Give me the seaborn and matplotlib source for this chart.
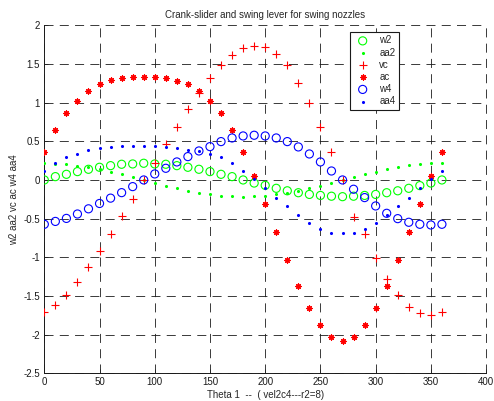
import numpy as np
import pandas as pd
import matplotlib
matplotlib.use("Agg")
import matplotlib.pyplot as plt
import seaborn as sns

theta = list(range(0, 361, 10))

w2 = [0.0, 0.043, 0.073, 0.108, 0.138, 0.164, 0.185, 0.203, 0.207, 0.216,
      0.207, 0.203, 0.185, 0.164, 0.138, 0.108, 0.073, 0.043, 0.0, -0.040,
      -0.070, -0.108, -0.140, -0.165, -0.187, -0.200, -0.210, -0.216, -0.210, -0.200,
      -0.187, -0.165, -0.140, -0.108, -0.073, -0.040, 0.0]
aa2 = [0.216, 0.210, 0.200, 0.185, 0.164, 0.138, 0.108, 0.074, 0.037, 0.0,
       -0.037, -0.074, -0.108, -0.139, -0.165, -0.187, -0.203, -0.213, -0.216, -0.213,
       -0.203, -0.187, -0.165, -0.139, -0.108, -0.074, -0.037, 0.0, 0.037, 0.074,
       0.108, 0.139, 0.165, 0.187, 0.203, 0.213, 0.216]
vc = [-1.71, -1.62, -1.487, -1.32, -1.13, -0.92, -0.70, -0.465, -0.245, 0.0,
      0.224, 0.466, 0.69, 0.914, 1.12, 1.32, 1.48, 1.61, 1.70, 1.73,
      1.72, 1.63, 1.48, 1.26, 1.00, 0.69, 0.36, 0.0, -0.48, -0.70,
      -1.01, -1.276, -1.487, -1.64, -1.72, -1.75, -1.71]
ac = [0.366, 0.647, 0.862, 1.026, 1.155, 1.237, 1.289, 1.315, 1.336, 1.336,
      1.336, 1.320, 1.284, 1.237, 1.155, 1.026, 0.862, 0.647, 0.366, 0.052,
      -0.31, -0.672, -1.04, -1.37, -1.66, -1.88, -2.025, -2.077, -2.025, -1.88,
      -1.66, -1.37, -1.04, -0.672, -0.31, 0.052, 0.366]
w4 = [-0.573, -0.536, -0.497, -0.44, -0.373, -0.304, -0.235, -0.164, -0.086, 0.0,
      0.078, 0.151, 0.233, 0.302, 0.375, 0.431, 0.496, 0.543, 0.569, 0.578,
      0.569, 0.543, 0.496, 0.427, 0.336, 0.233, 0.116, 0.0, -0.12, -0.228,
      -0.336, -0.431, -0.50, -0.547, -0.573, -0.582, -0.573]
aa4 = [0.118, 0.216, 0.295, 0.338, 0.388, 0.418, 0.431, 0.442, 0.444, 0.444,
       0.442, 0.427, 0.418, 0.384, 0.375, 0.34, 0.295, 0.216, 0.116, 0.013,
       -0.108, -0.228, -0.34, -0.457, -0.556, -0.633, -0.681, -0.69, -0.681, -0.633,
       -0.556, -0.457, -0.34, -0.228, -0.108, 0.013, 0.116]

xticks = [0, 50, 100, 150, 200, 250, 300, 350, 400]
yticks = [-2.5, -2, -1.5, -1, -0.5, 0, 0.5, 1, 1.5, 2]
ytick_labels = ["-2.5", "-2", "-1.5", "-1", "-0.5", "0", "0.5", "1", "1.5", "2"]

sns.set_theme(style="white")
plt.rcParams['font.family'] = ['Liberation Sans', 'DejaVu Sans']
plt.rcParams['lines.scale_dashes'] = False

fig = plt.figure(figsize=(4.94, 4.01), dpi=100)
ax = fig.add_axes([0.0897, 0.069, 0.984 - 0.0897, 0.937 - 0.069])

df = pd.DataFrame({"theta": theta, "w2": w2, "aa2": aa2, "vc": vc,
                   "ac": ac, "w4": w4, "aa4": aa4})

asterisk = (8, 2, 0)
sns.scatterplot(data=df, x="theta", y="w2", ax=ax, marker="o", s=34,
                facecolors="none", edgecolors=(0, 1, 0), linewidths=0.8, label="w2", zorder=3)
sns.scatterplot(data=df, x="theta", y="aa2", ax=ax, marker="o", s=5,
                color=(0, 1, 0), linewidth=0, label="aa2", zorder=3)
sns.scatterplot(data=df, x="theta", y="vc", ax=ax, marker="+", s=36,
                color=(1, 0, 0), linewidths=0.8, label="vc", zorder=3)
sns.scatterplot(data=df, x="theta", y="ac", ax=ax, marker=asterisk, s=16,
                color=(1, 0, 0), linewidths=0.85, label="ac", zorder=3)
sns.scatterplot(data=df, x="theta", y="w4", ax=ax, marker="o", s=34,
                facecolors="none", edgecolors=(0, 0, 1), linewidths=0.8, label="w4", zorder=3)
sns.scatterplot(data=df, x="theta", y="aa4", ax=ax, marker="o", s=5,
                color=(0, 0, 1), linewidth=0, label="aa4", zorder=3)

ax.set_xlim(0, 400)
ax.set_ylim(-2.5, 2)
ax.set_xticks(xticks)
ax.set_xticklabels([str(t) for t in xticks])
ax.set_yticks(yticks)
ax.set_yticklabels(ytick_labels)
ax.tick_params(direction="in", length=3, width=0.5, labelsize=7, colors="k",
               top=False, right=False, bottom=True, left=True, pad=3)
ax.grid(True, color="k", linestyle=(0, (6.5, 4.5)), linewidth=0.6)
ax.set_axisbelow(True)
for side in ["top", "right"]:
    ax.spines[side].set_visible(False)
for side in ["left", "bottom"]:
    ax.spines[side].set_color("k")
    ax.spines[side].set_linewidth(0.7)
for gl in ax.get_xgridlines() + ax.get_ygridlines():
    gl.set_clip_on(False)

ax.set_title("Crank-slider and swing lever for swing nozzles", fontsize=7, pad=5)
ax.set_xlabel("Theta 1  --  ( vel2c4---r2=8)", fontsize=7, labelpad=2)
ax.set_ylabel("w2 aa2 vc ac w4 aa4", fontsize=7, labelpad=3)

leg = ax.legend(loc="upper left", bbox_to_anchor=(0.692, 0.982), fontsize=7,
                frameon=True, fancybox=False, framealpha=1, edgecolor="k",
                borderpad=0.4, labelspacing=0.22, handletextpad=0.8, handlelength=1.8,
                borderaxespad=0)
leg.get_frame().set_linewidth(0.8)

fig.savefig("out.png", dpi=100)
